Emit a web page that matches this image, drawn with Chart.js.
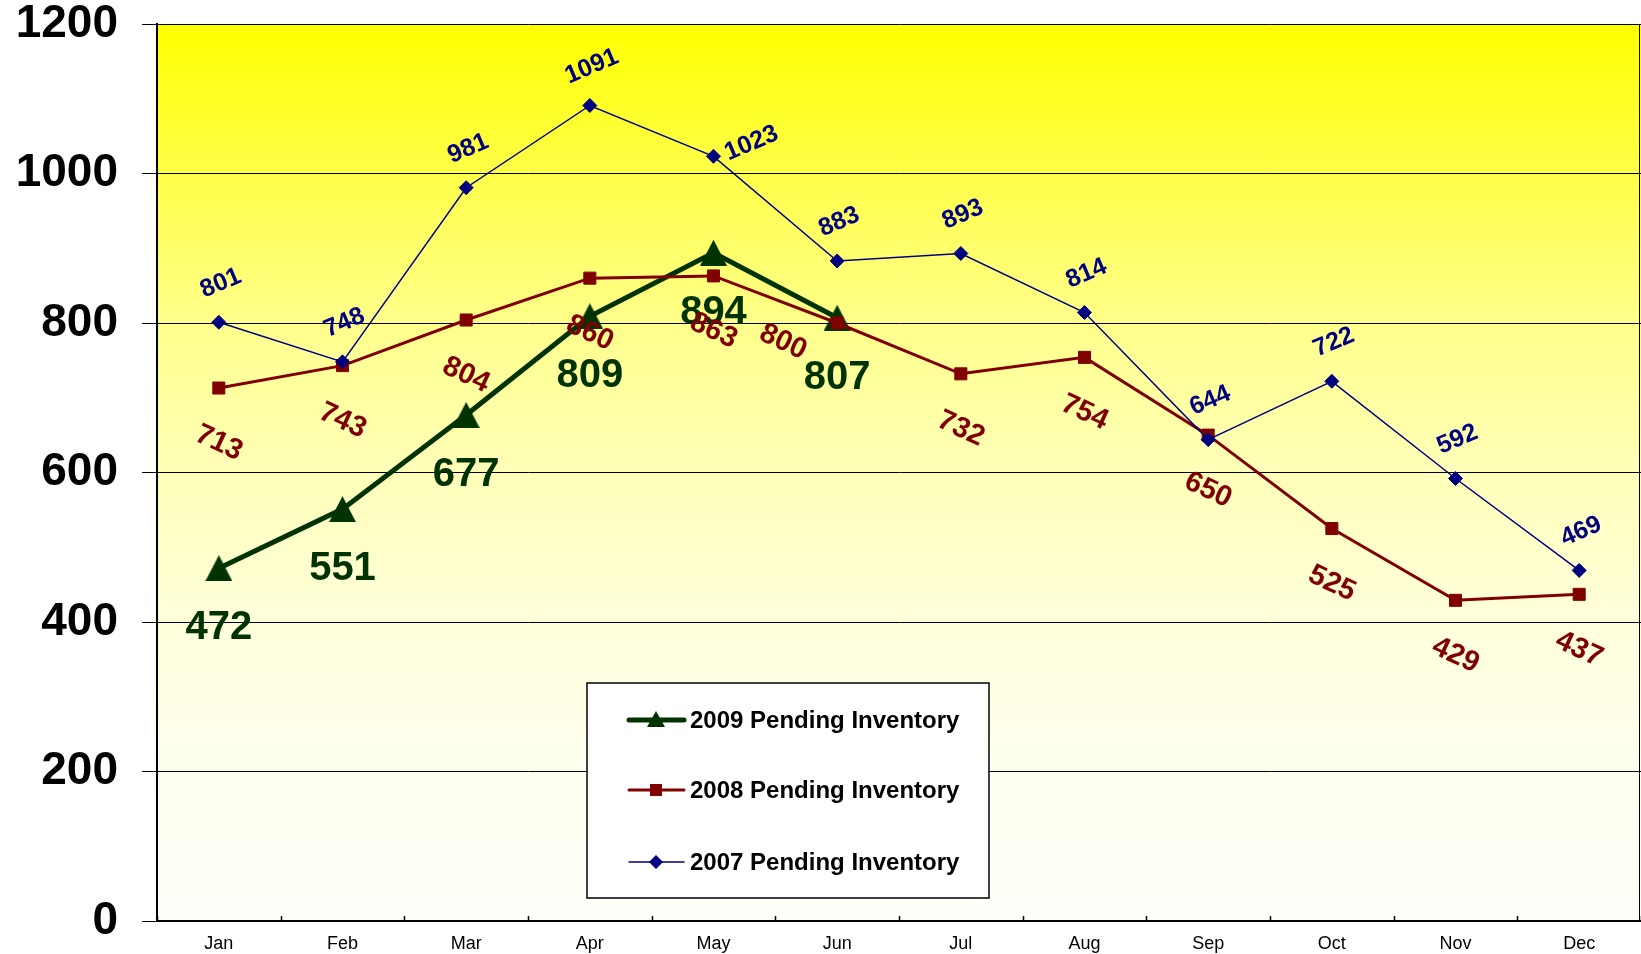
<!DOCTYPE html>
<html>
<head>
<meta charset="utf-8">
<title>Pending Inventory</title>
<script src="https://cdn.jsdelivr.net/npm/chart.js@4.4.1/dist/chart.umd.min.js"></script>
<style>
  html, body { margin: 0; padding: 0; background: #fff; }
  #wrap { width: 1641px; height: 954px; }
</style>
</head>
<body>
<div id="wrap"><canvas id="chart" width="1641" height="954"></canvas></div>
<script>
const months = ['Jan', 'Feb', 'Mar', 'Apr', 'May', 'Jun', 'Jul', 'Aug', 'Sep', 'Oct', 'Nov', 'Dec'];
const yTicks = [0, 200, 400, 600, 800, 1000, 1200];
const seriesNames = ['2009 Pending Inventory', '2008 Pending Inventory', '2007 Pending Inventory'];
const inv2009 = [472, 551, 677, 809, 894, 807, null, null, null, null, null, null];
const inv2008 = [713, 743, 804, 860, 863, 800, 732, 754, 650, 525, 429, 437];
const inv2007 = [801, 748, 981, 1091, 1023, 883, 893, 814, 644, 722, 592, 469];

const GREEN = '#003300';
const RED = '#800000';
const BLUE = '#000080';
const FAMILY = '"Liberation Sans", Arial, Helvetica, sans-serif';

Chart.defaults.font.family = FAMILY;

// triangle marker centred on its box, like excel does it
function makeTriangle(w, h, color) {
  const c = document.createElement('canvas');
  c.width = w; c.height = h;
  const g = c.getContext('2d');
  g.fillStyle = color;
  g.beginPath();
  g.moveTo(w / 2, 0);
  g.lineTo(w, h);
  g.lineTo(0, h);
  g.closePath();
  g.fill();
  return c;
}
const bigTriangle = makeTriangle(27, 26, GREEN);

// per series data label look
const labelStyle = [
  { size: 40, color: GREEN, angle: 0, dx: 0, dy: 60 },
  { size: 29, color: RED, angle: 25, dx: 0, dy: 55 },
  { size: 25, color: BLUE, angle: -23, dx: 2, dy: -39 }
];
// labels that were dragged by hand in the original
const labelMoves = { '1-5': [-54, 19], '2-4': [38, -13] };

const backgroundPlugin = {
  id: 'bgGradient',
  beforeDraw(chart) {
    const { ctx, chartArea: a } = chart;
    const grad = ctx.createLinearGradient(0, a.top, 0, a.bottom);
    grad.addColorStop(0, '#ffff00');
    grad.addColorStop(0.17, '#ffff4a');
    grad.addColorStop(0.33, '#ffff8a');
    grad.addColorStop(0.5, '#ffffb9');
    grad.addColorStop(0.67, '#ffffdc');
    grad.addColorStop(0.83, '#fffff0');
    grad.addColorStop(1, '#fffffa');
    ctx.save();
    ctx.fillStyle = grad;
    ctx.fillRect(a.left, a.top, a.right - a.left, a.bottom - a.top);
    ctx.restore();
  }
};

const labelPlugin = {
  id: 'pointLabels',
  afterDatasetsDraw(chart) {
    const ctx = chart.ctx;
    chart.data.datasets.forEach((ds, di) => {
      const st = labelStyle[di];
      const meta = chart.getDatasetMeta(di);
      ctx.save();
      ctx.font = 'bold ' + st.size + 'px ' + FAMILY;
      ctx.fillStyle = st.color;
      ctx.textAlign = 'center';
      ctx.textBaseline = 'middle';
      meta.data.forEach((pt, i) => {
        const v = ds.data[i];
        if (v === null || v === undefined) return;
        const mv = labelMoves[di + '-' + i] || [st.dx, st.dy];
        ctx.save();
        ctx.translate(pt.x + mv[0], pt.y + mv[1]);
        ctx.rotate(st.angle * Math.PI / 180);
        ctx.fillText(String(v), 0, 0);
        ctx.restore();
      });
      ctx.restore();
    });
  }
};

const framePlugin = {
  id: 'frame',
  afterDraw(chart) {
    const { ctx, chartArea: a } = chart;
    const xs = chart.scales.x;
    ctx.save();
    ctx.strokeStyle = '#000';
    ctx.lineWidth = 1.5;
    // small inner ticks between months
    for (let i = 0; i <= months.length; i++) {
      const px = Math.round(xs.getPixelForValue(i - 0.5)) + 0.5;
      ctx.beginPath();
      ctx.moveTo(px, a.bottom);
      ctx.lineTo(px, a.bottom - 5);
      ctx.stroke();
    }
    ctx.lineWidth = 1;
    ctx.beginPath();
    ctx.moveTo(a.right - 1.5, a.top);
    ctx.lineTo(a.right - 1.5, a.bottom);
    ctx.stroke();

    // legend box
    const box = { x: 587, y: 683, w: 402, h: 215 };
    ctx.fillStyle = '#fff';
    ctx.fillRect(box.x, box.y, box.w, box.h);
    ctx.lineWidth = 1.5;
    ctx.strokeRect(box.x, box.y, box.w, box.h);
    const rows = [720, 790, 862];
    const ds = chart.data.datasets;
    rows.forEach((ry, k) => {
      const d = ds[k];
      ctx.strokeStyle = d.borderColor;
      ctx.lineWidth = d.borderWidth;
      ctx.lineCap = 'round';
      ctx.beginPath();
      ctx.moveTo(629, ry);
      ctx.lineTo(684, ry);
      ctx.stroke();
      ctx.fillStyle = d.borderColor;
      if (k === 0) {
        ctx.beginPath();
        ctx.moveTo(656, ry - 9);
        ctx.lineTo(665, ry + 7);
        ctx.lineTo(647, ry + 7);
        ctx.closePath();
        ctx.fill();
      } else if (k === 1) {
        ctx.fillRect(650, ry - 6, 12, 12);
      } else {
        ctx.beginPath();
        ctx.moveTo(656, ry - 7);
        ctx.lineTo(663, ry);
        ctx.lineTo(656, ry + 7);
        ctx.lineTo(649, ry);
        ctx.closePath();
        ctx.fill();
      }
      ctx.fillStyle = '#000';
      ctx.font = 'bold 24px ' + FAMILY;
      ctx.textAlign = 'left';
      ctx.textBaseline = 'middle';
      ctx.fillText(d.label, 690, ry + 1);
    });
    ctx.restore();
  }
};

new Chart(document.getElementById('chart'), {
  type: 'line',
  data: {
    labels: months,
    datasets: [
      {
        label: seriesNames[0],
        data: inv2009,
        order: 2,
        borderColor: GREEN,
        backgroundColor: GREEN,
        borderWidth: 5,
        pointStyle: bigTriangle,
        pointRadius: 13
      },
      {
        label: seriesNames[1],
        data: inv2008,
        order: 1,
        borderColor: RED,
        backgroundColor: RED,
        borderWidth: 3,
        pointStyle: 'rect',
        pointRadius: 8.5,
        pointBorderWidth: 1
      },
      {
        label: seriesNames[2],
        data: inv2007,
        order: 0,
        borderColor: BLUE,
        backgroundColor: BLUE,
        borderWidth: 1.5,
        pointStyle: 'rectRot',
        pointRadius: 7,
        pointBorderWidth: 1
      }
    ]
  },
  options: {
    responsive: false,
    animation: false,
    events: [],
    layout: { autoPadding: false, padding: { top: 24, right: 0, bottom: 0, left: 0 } },
    elements: { line: { tension: 0, fill: false } },
    plugins: {
      legend: { display: false },
      tooltip: { enabled: false }
    },
    scales: {
      x: {
        offset: true,
        afterFit: s => { s.height = 33; s.paddingLeft = 0; s.paddingRight = 0; },
        ticks: { color: '#000', font: { size: 18 }, padding: 12, maxRotation: 0 },
        grid: { display: false, drawTicks: false },
        border: { color: '#000', width: 2 }
      },
      y: {
        min: 0,
        max: 1200,
        afterBuildTicks: s => { s.ticks = yTicks.map(v => ({ value: v })); },
        afterFit: s => { s.width = 157; s.paddingTop = 0; s.paddingBottom = 0; },
        ticks: {
          color: '#000',
          font: { size: 46, weight: 'bold', lineHeight: 1 },
          padding: 24,
          callback: v => String(v)
        },
        grid: { color: '#000', lineWidth: 1, tickLength: 15 },
        border: { color: '#000', width: 2 }
      }
    }
  },
  plugins: [backgroundPlugin, labelPlugin, framePlugin]
});
</script>
</body>
</html>
